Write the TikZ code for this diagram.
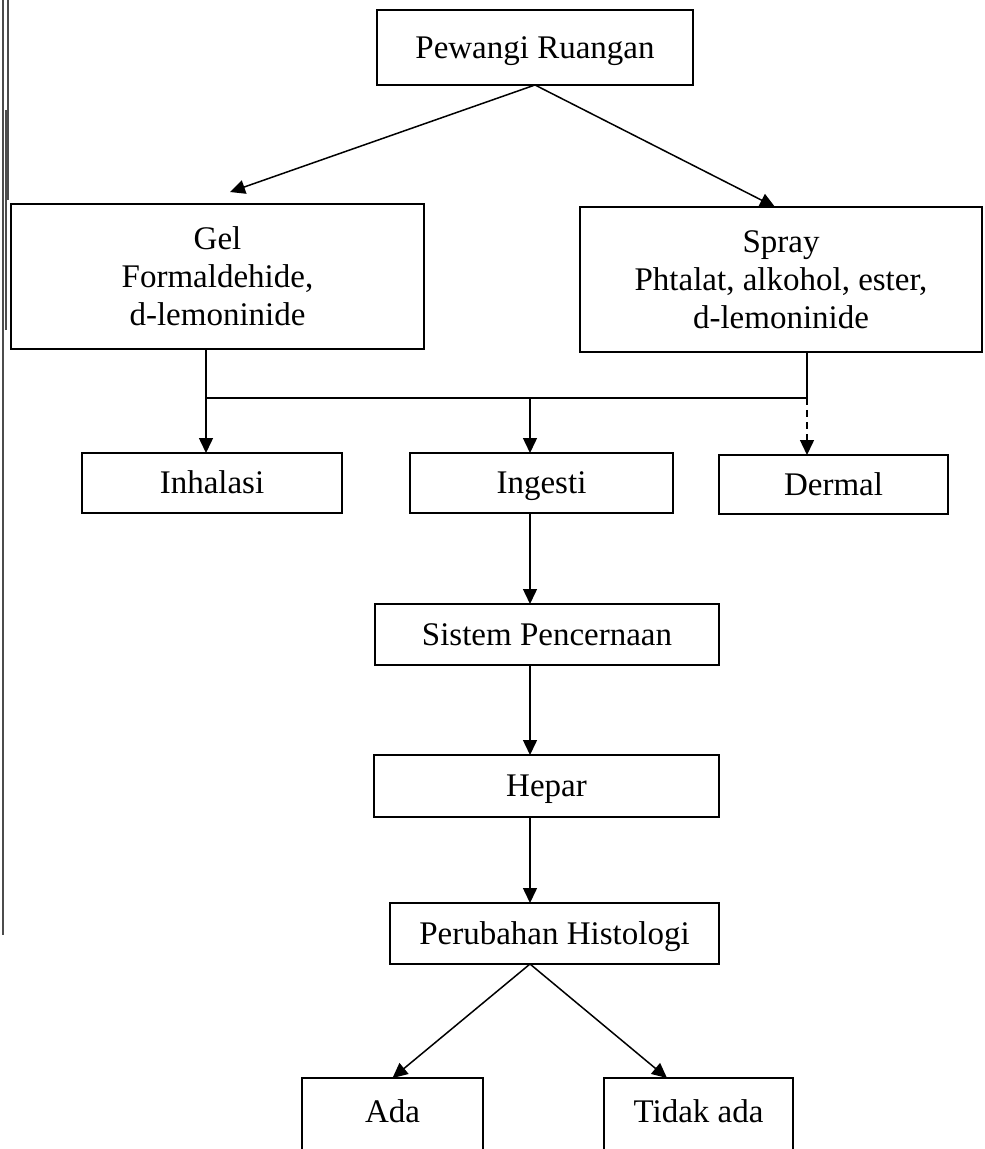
\documentclass[tikz,border=0pt]{standalone}
\usepackage{fontspec}
\setmainfont{Liberation Serif}
\usetikzlibrary{arrows.meta,calc}
\begin{document}
\begin{tikzpicture}[x=0.5pt,y=-0.5pt,
  txt/.style={font=\fontsize{16.5}{19}\selectfont},
  box/.style={draw, line width=0.8pt, inner sep=0pt, outer sep=0pt, align=center, txt},
  onebox/.style={box, text height=13pt, text depth=2.1pt},
  conn/.style={line width=0.75pt},
  arr/.style={conn, -{Triangle[length=7.5pt,width=7pt]}},
  dsh/.style={arr, dash pattern=on 3.5pt off 2.5pt},
  scanedge/.style={line width=0.6pt, black!70}
]
\useasboundingbox (0,0) rectangle (984,1149);
\fill[white] (0,0) rectangle (984,1149);
\clip (0,0) rectangle (984,1149);

% scanned page edge
\draw[scanedge] (3,0) -- (3,935);
\draw[scanedge] (8,0) -- (8,200);
\draw[scanedge] (6,110) -- (6,330);

% boxes
\node[onebox, minimum width=158pt, minimum height=37.5pt] (pew) at (535,47.5) {Pewangi Ruangan};
\node[box, minimum width=206.5pt, minimum height=72.5pt] (gel) at (217.5,276.5) {Gel\\Formaldehide,\\d-lemoninide};
\node[box, minimum width=201pt, minimum height=72.5pt] (spray) at (781,279.5) {Spray\\Phtalat, alkohol, ester,\\d-lemoninide};
\node[onebox, minimum width=130pt, minimum height=30pt] (inh) at (212,483) {Inhalasi};
\node[onebox, minimum width=131.5pt, minimum height=30pt] (ing) at (541.5,483) {Ingesti};
\node[onebox, minimum width=114.5pt, minimum height=29.5pt] (derm) at (833.5,484.5) {Dermal};
\node[onebox, minimum width=172pt, minimum height=30.5pt] (sis) at (547,634.5) {Sistem Pencernaan};
\node[onebox, minimum width=172.5pt, minimum height=31pt] (hep) at (546.5,786) {Hepar};
\node[onebox, minimum width=164.5pt, minimum height=30.5pt] (per) at (554.5,933.5) {Perubahan Histologi};
\node[box, minimum width=90.5pt, minimum height=41pt, anchor=north] (ada) at (392.5,1078) {};
\node[txt, inner sep=0pt] (adat) at (392.5,1111) {Ada};
\node[box, minimum width=94.5pt, minimum height=41pt, anchor=north] (tid) at (698.5,1078) {};
\node[txt, inner sep=0pt] (tidt) at (698.5,1111) {Tidak ada};

% junction coordinates
\coordinate (jl) at (206,398);
\coordinate (jm) at (530,398);
\coordinate (jr) at (807,398);
\coordinate (gtip) at (230,192);

% connectors
\draw[arr] (pew.south) -- (gtip);
\draw[arr] (pew.south) -- ($(spray.north west)+(195,0)$);
\draw[conn] (gel.south -| jl) -- (jl) -- (jr) -- (spray.south -| jr);
\draw[arr] (jl) -- (inh.north -| jl);
\draw[arr] (jm) -- (ing.north -| jm);
\draw[dsh] (jr) -- (derm.north -| jr);
\draw[arr] (ing.south -| jm) -- (sis.north -| jm);
\draw[arr] (sis.south -| jm) -- (hep.north -| jm);
\draw[arr] (hep.south -| jm) -- (per.north -| jm);
\coordinate (pa) at (per.south -| jm);
\draw[arr] (pa) -- (ada.north);
\draw[arr] (pa) -- ($(tid.north west)+(63,0)$);
\end{tikzpicture}
\end{document}
